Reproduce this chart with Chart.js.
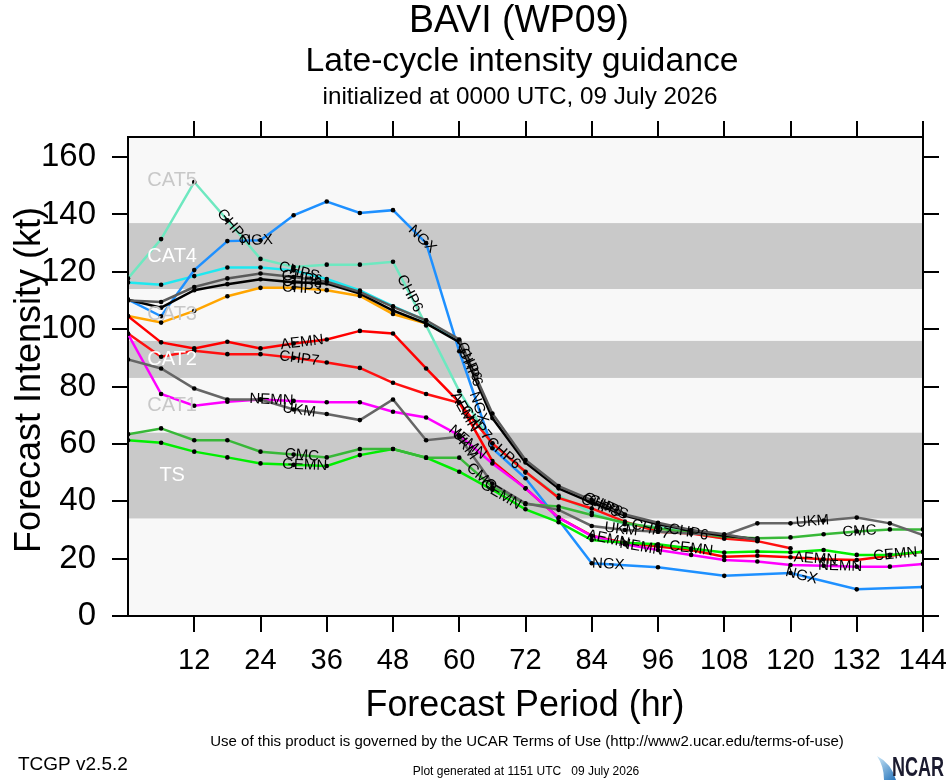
<!DOCTYPE html>
<html>
<head>
<meta charset="utf-8">
<title>BAVI (WP09) late-cycle intensity guidance</title>
<script src="https://cdn.jsdelivr.net/npm/chart.js@4.4.1/dist/chart.umd.min.js"></script>
<style>
  html, body { margin: 0; padding: 0; background: #fff; }
  #wrap { width: 946px; height: 780px; }
</style>
</head>
<body>
<div id="wrap"><canvas id="chart" width="946" height="780"></canvas></div>
<script>
// Late-cycle intensity guidance chart (TCGP style)

const FONT = "'Liberation Sans', Arial, Helvetica, sans-serif";

// --- data: forecast hours and intensity (kt) per model ---
const hours = [0, 6, 12, 18, 24, 30, 36, 42, 48, 54, 60, 66, 72, 78, 84, 90, 96, 102, 108, 114, 120, 126, 132, 138, 144];

const ngx   = [110.3, 104.5, 120.6, 130.7, 131, 139.7, 144.5, 140.5, 141.5, 130, 92.3, 58.5, 48, 33.5, 18.4, null, 17, null, 14, null, 15, null, 9.3, null, 10.1];
const aqua  = [117.7, 131.4, 151.3, 138, 124.5, 121.7, 122.5, 122.5, 123.5, 101.3, 78.4, 60, 50, 42, 36, 32, 31, 29, 27, null, null, null, null, null, null];
const cyan  = [116.3, 115.5, 118.5, 121.5, 121.5, 120.5, 117.5, 113.5, 108, 103, 95.5, null, null, null, null, null, null, null, null, null, null, null, null, null, null];
const gray  = [110, 109.5, 114.7, 117.7, 119.4, 118.2, 116.5, 113, 107.8, 103.1, 96.4, 70.6, 54.4, 45.3, 40.4, 35.4, 32.5, 30, 28.5, 26.5, null, null, null, null, null];
const black = [110.3, 107.5, 113.6, 115.7, 117.4, 116.4, 115.9, 112.4, 106.5, 102, 95.5, 69, 53.5, 44.5, 39.5, 35, 32, 29.8, 28, 26.8, null, null, null, null, null];
const chp3  = [104.6, 102.3, 106.4, 111.5, 114.4, 114.4, 113.6, 111.6, 105.3, 102, 96, null, null, null, null, null, null, null, null, null, null, null, null, null, null];
const aemn  = [104.5, 95.4, 93.3, 95.6, 93.3, 95, 96.4, 99.4, 98.5, 86.3, 74.5, 54, 44.5, 34.3, 28, 25.5, 24.2, 23, 20.7, 21, 20.5, 19.8, 19.5, 21, 22.4];
const chp7  = [98.5, 90.4, 92.5, 91.3, 91.3, 90, 88.4, 86.5, 81.3, 77.4, 74.3, 60.2, 50.3, 41.2, 37.5, 32.9, 29.4, 28.8, 27, 26.1, 23.6, null, null, null, null];
const nemn  = [98.3, 77.4, 73.3, 74.7, 75.5, 75, 74.5, 74.5, 71.2, 69.2, 63, 53.2, 44.5, 34.3, 27.9, 25, 23, 21.3, 19.5, 19, 17.8, 17.5, 17.2, 17.2, 18.1];
const ukm   = [89.4, 86.3, 79.3, 75.5, 75.5, 72, 70.4, 68.3, 75.5, 61.3, 62.5, 46.2, 39.3, 37, 31.4, 30, 29.4, 28.8, 28.2, 32.3, 32.3, 33.3, 34.3, 32.3, 28.2];
const cmc   = [63.4, 65.4, 61.3, 61.3, 57.3, 56.3, 55.3, 58.2, 58.2, 55.2, 55.2, 45, 39, 38.2, 35.2, 32.5, 30.5, 29, 27.6, 27.1, 27.4, 28.5, 29.5, 30.2, 30.2];
const gemn  = [61.3, 60.4, 57.3, 55.3, 53.2, 52.7, 52.3, 56.1, 58.2, 55.2, 50.3, 44, 37.2, 32.7, 26.5, 25.5, 25, 23.5, 22.1, 22.5, 22.2, 23, 21.3, 21.3, 22.4];

// intensity category bands (kt)
const bandEdges  = [0, 34, 64, 83, 96, 114, 137, 167];
const bandNames  = ['', 'TS', 'CAT1', 'CAT2', 'CAT3', 'CAT4', 'CAT5'];
const bandShaded = [false, true, false, true, false, true, false];
const bandLabelHour = 8;

const xTicks = { min: 0, max: 144, step: 12 };
const yTicks = { min: 0, max: 167, step: 20 };

// first in the list is drawn on top
const models = [
    { key: 'gray',  color: '#5a5a5a', values: gray },
    { key: 'black', color: '#000000', values: black },
    { key: 'ukm',   color: '#666666', values: ukm },
    { key: 'cmc',   color: '#38b838', values: cmc },
    { key: 'gemn',  color: '#00ee00', values: gemn },
    { key: 'nemn',  color: '#ff00ff', values: nemn },
    { key: 'aemn',  color: '#ff0000', values: aemn },
    { key: 'chp7',  color: '#ff1010', values: chp7 },
    { key: 'ngx',   color: '#1e90ff', values: ngx },
    { key: 'aqua',  color: '#6ee8c0', values: aqua },
    { key: 'cyan',  color: '#1ee8f0', values: cyan },
    { key: 'chp3',  color: '#ffa500', values: chp3 },
];

// model name labels placed along the lines: [text, model key, forecast hour]
const lineLabels = [
    ['GHP6', 'aqua', 19], ['NGX', 'ngx', 23.3],
    ['CHPS', 'cyan', 31], ['GHP6', 'gray', 31.5], ['CHP6', 'black', 31.5], ['CHP3', 'chp3', 31.5],
    ['AEMN', 'aemn', 31.5], ['CHP7', 'chp7', 31], ['NEMN', 'nemn', 26], ['UKM', 'ukm', 31],
    ['CMC', 'cmc', 31.5], ['GEMN', 'gemn', 32],
    ['CHP6', 'aqua', 51], ['NGX', 'ngx', 53.3],
    ['CHPS', 'cyan', 61.3], ['CHP3', 'chp3', 61.5], ['GHP6', 'gray', 61.8], ['CHP6', 'black', 62],
    ['AEMN', 'aemn', 61], ['NGX', 'ngx', 63.5], ['CHP7', 'chp7', 63], ['CHP6', 'aqua', 68],
    ['UKM', 'ukm', 61], ['NEMN', 'nemn', 61.5], ['CMC', 'cmc', 64], ['GEMN', 'gemn', 67.5],
    ['CHP3', 'black', 85.5], ['GHP6', 'gray', 86], ['CHPS', 'gray', 87],
    ['UKM', 'ukm', 89.3], ['AEMN', 'aemn', 87], ['NEMN', 'nemn', 93], ['NGX', 'ngx', 87],
    ['CHP7', 'chp7', 94.7], ['CHP6', 'aqua', 101.5], ['CEMN', 'gemn', 102],
    ['UKM', 'ukm', 124], ['CMC', 'cmc', 132.5], ['AEMN', 'aemn', 124.5], ['NEMN', 'nemn', 129],
    ['NGX', 'ngx', 122], ['CEMN', 'gemn', 139],
];

// --- helpers ---
function drawText(ctx, text, x, y, size, opts = {}) {
    ctx.save();
    ctx.font = `${opts.weight || 'normal'} ${size}px ${FONT}`;
    ctx.fillStyle = opts.color || '#000';
    ctx.textAlign = opts.align || 'center';
    ctx.textBaseline = 'middle';
    ctx.translate(x, y);
    if (opts.rotate) ctx.rotate(opts.rotate);
    if (opts.width) ctx.fillText(text, 0, 0, opts.width);
    else ctx.fillText(text, 0, 0);
    ctx.restore();
}

// find the segment of a series around hour h (skipping gaps)
function segmentAt(values, h) {
    let i0 = -1, i1 = -1;
    for (let i = 0; i < hours.length; i++) {
        if (values[i] == null) continue;
        if (hours[i] <= h) i0 = i;
        if (hours[i] > h && i1 < 0) i1 = i;
    }
    if (i0 < 0 || i1 < 0) return null;
    return [i0, i1];
}

const tickColor = (c) => (c.tick && c.tick.value === 0 && c.scale.axis === 'x') ? 'rgba(0,0,0,0)' : '#000';

function axisGrid() {
    return { drawOnChartArea: false, drawTicks: true, tickLength: 16, lineWidth: 2, color: tickColor };
}

// fix axis box sizes so the plot frame lands where the reference has it
function fixBox(size) {
    return (s) => {
        if (s.isHorizontal()) s.height = size; else s.width = size;
        s.paddingLeft = 0; s.paddingRight = 0; s.paddingTop = 0; s.paddingBottom = 0;
    };
}

const bandsPlugin = {
    id: 'bands',
    beforeDraw(chart) {
        const { ctx, chartArea: a, scales: { y } } = chart;
        ctx.save();
        ctx.fillStyle = '#fff';
        ctx.fillRect(0, 0, chart.width, chart.height);
        for (let i = 0; i < bandNames.length; i++) {
            const top = y.getPixelForValue(bandEdges[i + 1]);
            const bot = y.getPixelForValue(bandEdges[i]);
            ctx.fillStyle = bandShaded[i] ? '#c9c9c9' : '#f8f8f8';
            ctx.fillRect(a.left, top, a.right - a.left, bot - top);
        }
        ctx.restore();
    },
    afterDatasetsDraw(chart) {
        const { ctx, scales: { x, y } } = chart;
        const px = x.getPixelForValue(bandLabelHour);
        for (let i = 0; i < bandNames.length; i++) {
            if (!bandNames[i]) continue;
            const py = y.getPixelForValue((bandEdges[i] + bandEdges[i + 1]) / 2);
            drawText(ctx, bandNames[i], px, py, 20, { color: bandShaded[i] ? '#ffffff' : '#c8c8c8' });
        }
    }
};

const lineLabelPlugin = {
    id: 'lineLabels',
    afterDatasetsDraw(chart) {
        const { ctx, scales: { x, y } } = chart;
        lineLabels.forEach(([text, key, h]) => {
            const m = models.find(mm => mm.key === key);
            const seg = segmentAt(m.values, h);
            if (!seg) return;
            const [i0, i1] = seg;
            const x0 = x.getPixelForValue(hours[i0]), y0 = y.getPixelForValue(m.values[i0]);
            const x1 = x.getPixelForValue(hours[i1]), y1 = y.getPixelForValue(m.values[i1]);
            const f = (h - hours[i0]) / (hours[i1] - hours[i0]);
            const px = x0 + (x1 - x0) * f, py = y0 + (y1 - y0) * f;
            drawText(ctx, text, px, py, 15, { rotate: Math.atan2(y1 - y0, x1 - x0) });
        });
    }
};

const pageTextPlugin = {
    id: 'pageText',
    afterDraw(chart) {
        const ctx = chart.ctx;
        drawText(ctx, 'BAVI (WP09)', 519, 21, 39, { width: 220 });
        drawText(ctx, 'Late-cycle intensity guidance', 522, 62, 34, { width: 433 });
        drawText(ctx, 'initialized at 0000 UTC, 09 July 2026', 520, 97, 24.5, { width: 395 });
        drawText(ctx, 'Forecast Period (hr)', 525, 706, 36, { width: 319 });
        drawText(ctx, 'Forecast Intensity (kt)', 30, 380, 36, { width: 350, rotate: -Math.PI / 2 });
        drawText(ctx, 'Use of this product is governed by the UCAR Terms of Use (http://www2.ucar.edu/terms-of-use)', 527, 742, 15, { width: 688 });
        drawText(ctx, 'TCGP v2.5.2', 18, 765, 19, { align: 'left', width: 118 });
        drawText(ctx, 'Plot generated at 1151 UTC   09 July 2026', 526, 772, 12, { width: 256 });

        // NCAR logo
        ctx.save();
        const g = ctx.createLinearGradient(876, 756, 898, 780);
        g.addColorStop(0, '#cfeaf9');
        g.addColorStop(1, '#1f6fb8');
        ctx.fillStyle = g;
        ctx.beginPath();
        ctx.moveTo(877, 756);
        ctx.quadraticCurveTo(891, 763, 896, 780);
        ctx.lineTo(884, 780);
        ctx.quadraticCurveTo(884, 766, 877, 756);
        ctx.fill();
        ctx.restore();
        drawText(ctx, 'NCAR', 892, 769, 27, { align: 'left', weight: 'bold', width: 52, color: '#1b1b2f' });
    }
};

const datasets = models.map(m => ({
    label: m.key,
    data: hours.map((h, i) => ({ x: h, y: m.values[i] })),
    borderColor: m.color,
    backgroundColor: m.color,
    borderWidth: 2.5,
    pointRadius: 2.3,
    pointBackgroundColor: '#000',
    pointBorderWidth: 0,
    pointHoverRadius: 0,
    spanGaps: true,
    tension: 0,
    fill: false,
}));

new Chart(document.getElementById('chart'), {
    type: 'line',
    data: { datasets },
    options: {
        responsive: false,
        animation: false,
        events: [],
        layout: { padding: 0 },
        plugins: { legend: { display: false }, tooltip: { enabled: false }, title: { display: false } },
        scales: {
            x: {
                type: 'linear', position: 'bottom', min: xTicks.min, max: xTicks.max,
                afterFit: fixBox(164),
                ticks: { stepSize: xTicks.step, color: '#000', padding: 12, maxRotation: 0, autoSkip: false,
                         font: { family: FONT, size: 29 }, callback: v => (v === 0 ? '' : v) },
                grid: axisGrid(),
                border: { color: '#000', width: 2 }
            },
            xTop: {
                type: 'linear', position: 'top', min: xTicks.min, max: xTicks.max,
                afterFit: fixBox(137),
                ticks: { stepSize: xTicks.step, display: false, autoSkip: false },
                grid: axisGrid(),
                border: { color: '#000', width: 2 }
            },
            y: {
                type: 'linear', position: 'left', min: yTicks.min, max: yTicks.max,
                afterFit: fixBox(128),
                ticks: { stepSize: yTicks.step, includeBounds: false, color: '#000', padding: 16,
                         font: { family: FONT, size: 33 } },
                grid: axisGrid(),
                border: { color: '#000', width: 2 }
            },
            yRight: {
                type: 'linear', position: 'right', min: yTicks.min, max: yTicks.max,
                afterFit: fixBox(23),
                ticks: { stepSize: yTicks.step, includeBounds: false, display: false },
                grid: axisGrid(),
                border: { color: '#000', width: 2 }
            }
        }
    },
    plugins: [bandsPlugin, lineLabelPlugin, pageTextPlugin]
});
</script>
</body>
</html>
